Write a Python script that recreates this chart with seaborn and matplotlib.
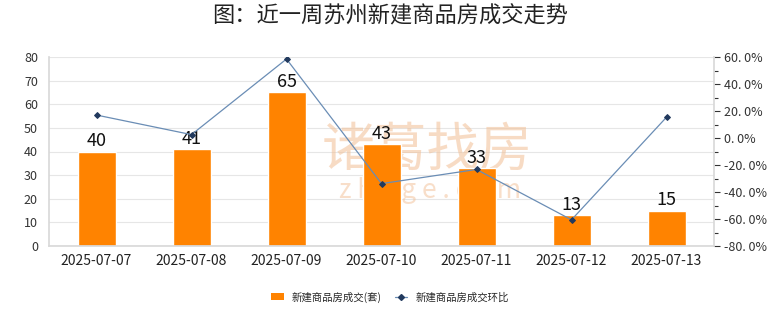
import numpy as np
import pandas as pd
import matplotlib
matplotlib.use("Agg")
import matplotlib.pyplot as plt
import seaborn as sns
from matplotlib.ticker import FuncFormatter, MultipleLocator
from matplotlib.lines import Line2D
from matplotlib.patches import Patch

dates = ["2025-07-07", "2025-07-08", "2025-07-09", "2025-07-10", "2025-07-11", "2025-07-12", "2025-07-13"]
deals = [40, 41, 65, 43, 33, 13, 15]
mom = [17.0, 2.5, 58.5, -33.8, -23.3, -60.6, 15.4]

sns.set_theme(style="white")
plt.rcParams['font.family'] = ['Noto Sans CJK SC', 'DejaVu Sans']

df = pd.DataFrame({"date": dates, "deals": deals, "mom": mom})

fig = plt.figure(figsize=(7.8, 3.28), dpi=100)
ax = fig.add_axes([49/780, 1-246/328, (714-49)/780, (246-57)/328])

bar_color = "#FF8300"
sns.barplot(data=df, x="date", y="deals", color=bar_color, width=0.4, ax=ax, saturation=1, zorder=2)
ax.set_xlim(-0.5, 6.5)
ax.set_ylim(0, 80)
ax.yaxis.set_major_locator(MultipleLocator(10))
ax.grid(axis="y", color="#e6e6e6", linewidth=0.8)
ax.set_axisbelow(True)
ax.set_xlabel("")
ax.set_ylabel("")
for s in ["top", "right"]:
    ax.spines[s].set_visible(False)
ax.spines["left"].set_color("#d9d9d9")
ax.spines["bottom"].set_color("#d9d9d9")
ax.tick_params(axis="y", labelsize=9, colors="#333333", length=0, pad=8)
ax.tick_params(axis="x", labelsize=10, colors="#222222", length=0, pad=6)
ax.bar_label(ax.containers[0], fontsize=13, color="#111111", padding=1, zorder=5)

# watermark (behind bars)
wm = "#f2bf95"
ax.text((427-49)/665, (246-150)/189, "诸葛找房", transform=ax.transAxes, fontsize=38,
        color=wm, alpha=0.55, ha="center", va="center", zorder=1)
ax.text((430-49)/665, (246-190)/189, "z h u g e . c o m", transform=ax.transAxes, fontsize=19,
        color=wm, alpha=0.5, ha="center", va="center", zorder=1)

ax2 = ax.twinx()
line_color = "#6a8db5"
sns.lineplot(x=np.arange(len(dates)), y=df["mom"], ax=ax2, color=line_color, linewidth=0.9,
             marker="D", markersize=3, markerfacecolor="#223a5e", markeredgecolor="#223a5e")
ax2.set_ylim(-80, 60)
ax2.yaxis.set_major_locator(MultipleLocator(20))
ax2.yaxis.set_minor_locator(MultipleLocator(10))
ax2.yaxis.set_major_formatter(FuncFormatter(lambda v, p: f"{v:.1f}%".replace(".", ". ")))
ax2.tick_params(axis="y", which="major", labelsize=9, colors="#333333", length=4, width=0.8, direction="out", pad=3)
ax2.tick_params(axis="y", which="minor", length=3, width=0.8, colors="#333333")
ax2.set_ylabel("")
ax2.grid(False)
for s in ["top", "left", "bottom"]:
    ax2.spines[s].set_visible(False)
ax2.spines["right"].set_color("#d9d9d9")

fig.suptitle("图：近一周苏州新建商品房成交走势", fontsize=16, x=0.5, y=0.985, color="#222222",
             fontweight="medium")

handles = [Patch(facecolor=bar_color, edgecolor="none"),
           Line2D([], [], color=line_color, marker="D", markersize=3,
                  markerfacecolor="#223a5e", markeredgecolor="#223a5e", linewidth=0.9)]
fig.legend(handles, ["新建商品房成交(套)", "新建商品房成交环比"], loc="center",
           bbox_to_anchor=(0.50, 1-297/328), ncol=2, frameon=False, fontsize=7.5,
           handlelength=1.2, handleheight=0.7, columnspacing=1.2, handletextpad=0.8)

fig.savefig("out.png", dpi=100)
